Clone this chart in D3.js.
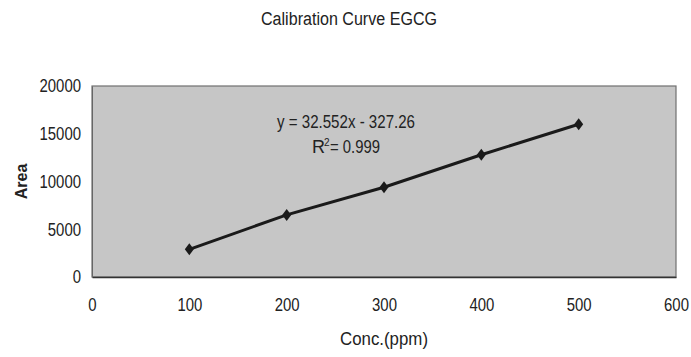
<!DOCTYPE html>
<html>
<head>
<meta charset="utf-8">
<script src="https://cdn.jsdelivr.net/npm/d3@7"></script>
<style>
  body { margin: 0; background: #fff; }
  text { font-family: "Liberation Sans", Arial, sans-serif; fill: #222; }
</style>
</head>
<body>
<div id="chart"></div>
<script>
// data
let conc = [100, 200, 300, 400, 500];
let area = [2900, 6500, 9400, 12800, 16000];
let xTicks = [0, 100, 200, 300, 400, 500, 600];
let yTicks = [0, 5000, 10000, 15000, 20000];
let eqLabel = "y = 32.552x - 327.26";

let w = 691, h = 357;
let margin = {left: 92, right: 15, top: 86, bottom: 80};
let digitW = 8.3; // narrow font look

let svg = d3.select("#chart").append("svg")
  .attr("width", w)
  .attr("height", h);

let x = d3.scaleLinear().domain([0, 600]).range([margin.left, w - margin.right]);
let y = d3.scaleLinear().domain([0, 20000]).range([h - margin.bottom, margin.top]);

// plot background
svg.append("rect")
  .attr("x", x(0))
  .attr("y", y(20000))
  .attr("width", x(600) - x(0))
  .attr("height", y(0) - y(20000))
  .attr("fill", "#c6c6c6")
  .attr("stroke", "#707070")
  .attr("stroke-width", 1.2);

// x axis
let xAxis = svg.append("g")
  .attr("transform", "translate(0," + y(0) + ")")
  .call(d3.axisBottom(x).tickValues(xTicks).tickFormat(d3.format("d")).tickSize(0).tickPadding(21));
xAxis.select(".domain").attr("stroke", "#333").attr("stroke-width", 1.5);
xAxis.selectAll("text")
  .style("font-size", "18px")
  .attr("fill", "#222")
  .attr("textLength", d => String(d).length * digitW)
  .attr("lengthAdjust", "spacingAndGlyphs");

// y axis
let yAxis = svg.append("g")
  .attr("transform", "translate(" + x(0) + ",0)")
  .call(d3.axisLeft(y).tickValues(yTicks).tickFormat(d3.format("d")).tickSize(0).tickPadding(11));
yAxis.select(".domain").attr("stroke", "#666").attr("stroke-width", 1);
yAxis.selectAll("text")
  .style("font-size", "18px")
  .attr("fill", "#222")
  .attr("textLength", d => String(d).length * digitW)
  .attr("lengthAdjust", "spacingAndGlyphs");

// line + markers
let line = d3.line()
  .x((d, i) => x(conc[i]))
  .y(d => y(d));
svg.append("path")
  .datum(area)
  .attr("d", line)
  .attr("fill", "none")
  .attr("stroke", "#1a1a1a")
  .attr("stroke-width", 3);

svg.append("g").selectAll("path").data(area).join("path")
  .attr("transform", (d, i) => "translate(" + x(conc[i]) + "," + y(d) + ")")
  .attr("d", "M0,-6L4.5,0L0,6L-4.5,0Z")
  .attr("fill", "#1a1a1a");

// titles
svg.append("text")
  .attr("x", 349)
  .attr("y", 25)
  .attr("text-anchor", "middle")
  .attr("textLength", 176)
  .attr("lengthAdjust", "spacingAndGlyphs")
  .style("font-size", "18px")
  .text("Calibration Curve EGCG");

svg.append("text")
  .attr("transform", "translate(27," + y(10000) + ")rotate(-90)")
  .attr("text-anchor", "middle")
  .style("font-size", "16px")
  .style("font-weight", "bold")
  .text("Area");

svg.append("text")
  .attr("x", 384)
  .attr("y", 345)
  .attr("text-anchor", "middle")
  .attr("textLength", 88)
  .attr("lengthAdjust", "spacingAndGlyphs")
  .style("font-size", "18px")
  .text("Conc.(ppm)");

// equation
svg.append("text")
  .attr("x", 346)
  .attr("y", 128)
  .attr("text-anchor", "middle")
  .attr("textLength", 138)
  .attr("lengthAdjust", "spacingAndGlyphs")
  .style("font-size", "18px")
  .text(eqLabel);

svg.append("text")
  .attr("x", 312)
  .attr("y", 153)
  .style("font-size", "18px")
  .text("R");
svg.append("text")
  .attr("x", 324)
  .attr("y", 146)
  .style("font-size", "10px")
  .text("2");
svg.append("text")
  .attr("x", 330)
  .attr("y", 153)
  .attr("textLength", 50)
  .attr("lengthAdjust", "spacingAndGlyphs")
  .style("font-size", "18px")
  .text("= 0.999");
</script>
</body>
</html>
